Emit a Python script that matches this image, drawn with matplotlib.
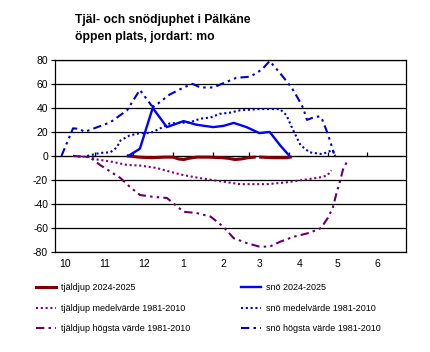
import numpy as np
import matplotlib
matplotlib.use("Agg")
import matplotlib.pyplot as plt

plt.rcParams['font.family'] = ['Liberation Sans', 'DejaVu Sans']
plt.rcParams['axes.unicode_minus'] = False

# x = days since 1 Oct
month_labels = ['10', '11', '12', '1', '2', '3', '4', '5', '6']
month_len = [31, 30, 31, 31, 28, 31, 30, 31, 30]

# snow 2024-2025
snow_d = [57, 66, 76, 87, 100, 110, 123, 131, 139, 149, 159, 167, 175, 182]
snow_v = [0, 6, 40, 24, 29, 26, 24, 25, 27.5, 24, 19, 20, 9, 0.5]

# frost 2024-2025
frost_d = [57, 65, 75, 85, 92, 96, 100, 104, 110, 120, 130, 135, 140, 145, 150, 155, 157,
           160, 170, 180, 183]
frost_v = [0, -1, -1.5, -1, -1, -2.5, -3, -2, -1, -1, -1.5, -2, -3, -2.5, -1.5, -1, np.nan,
           -1, -1.5, -1.5, -1]

# snow mean 1981-2010
snow_mean_d = [25, 35, 43, 48, 51, 58, 66, 74, 82, 89, 105, 113, 121, 128, 136, 144, 159,
               175, 180, 185, 191, 198, 208, 216, 218]
snow_mean_v = [0, 2.5, 3, 7, 13, 17, 19, 19, 23, 27, 28, 31, 32, 35, 36, 38, 39,
               39, 34, 22, 9, 3, 1.5, 5, 0]

# snow max 1981-2010
snow_max_d = [5, 14, 19, 23, 43, 56, 66, 75, 77, 89, 100, 107, 113, 123, 132, 141, 152,
              161, 167, 175, 184, 189, 193, 196, 201, 206, 208, 212, 215, 217]
snow_max_v = [0, 23, 22.5, 20, 28, 38, 55, 42, 41, 51, 57, 60, 57, 57, 61, 65, 66,
              72, 79, 69, 57, 48, 40, 30, 32, 33, 30, 19, 9, 2]

# frost mean 1981-2010
frost_mean_d = [14, 27, 33, 45, 56, 66, 79, 89, 100, 113, 128, 144, 165, 180, 196, 208,
                212, 215]
frost_mean_v = [0, -1, -3, -5, -7.5, -8, -10, -13, -16, -18.5, -21, -23.5, -23.5, -22,
                -19.5, -17.5, -16, -12]

# frost max 1981-2010
frost_max_d = [14, 27, 35, 43, 51, 58, 66, 76, 87, 95, 100, 110, 121, 131, 139, 149, 159,
               167, 175, 185, 198, 207, 212, 216, 219, 222, 224, 227]
frost_max_v = [0, -1, -7.5, -13, -18.5, -25.5, -32.5, -34, -35, -42, -46.5, -47.5, -50.5,
               -59, -68.5, -72.5, -75.5, -75.5, -71.5, -67.5, -64, -60, -52, -43.5, -31,
               -20, -11.5, -5]

month_start = np.concatenate([[0], np.cumsum(month_len)])

fig = plt.figure(figsize=(4.3, 3.52), dpi=100)
ax = fig.add_axes([0.128, 0.284, 0.816, 0.546])

dotted = (0, (1, 1.3))
dashdotdot = (0, (4, 2, 1.2, 2, 1.2, 2))
ax.plot(frost_d, frost_v, color='#800000', lw=2.2, label='tjäldjup 2024-2025')
ax.plot(frost_mean_d, frost_mean_v, color='#800080', lw=1.5, ls=dotted,
        label='tjäldjup medelvärde 1981-2010')
ax.plot(frost_max_d, frost_max_v, color='#660066', lw=1.5, ls=dashdotdot,
        label='tjäldjup högsta värde 1981-2010')
ax.plot(snow_d, snow_v, color='#0000FF', lw=1.7, label='snö 2024-2025')
ax.plot(snow_mean_d, snow_mean_v, color='#0000CC', lw=1.5, ls=dotted,
        label='snö medelvärde 1981-2010')
ax.plot(snow_max_d, snow_max_v, color='#0000CC', lw=1.5, ls=dashdotdot,
        label='snö högsta värde 1981-2010')

ax.set_xlim(0, month_start[-1])
ax.set_ylim(-80, 80)
ax.set_yticks(np.arange(-80, 81, 20))
ax.yaxis.grid(True, color='black', lw=0.9)
ax.set_axisbelow(True)
for s in ax.spines.values():
    s.set_color('black')
    s.set_linewidth(0.9)
ax.tick_params(axis='y', length=3, width=0.9, labelsize=7.5, pad=2)

# month labels a little after each month start
ax.set_xticks(month_start[:-1] + 8)
ax.set_xticklabels(month_labels)
ax.tick_params(axis='x', length=0, labelsize=7.5, pad=5)

# zero line with month ticks
sec = ax.secondary_xaxis(0.5)
sec.set_xticks(month_start[1:-1])
sec.set_xticklabels([])
sec.tick_params(length=3, width=0.9, direction='out')
sec.spines['bottom'].set_linewidth(1.0)

fig.text(0.175, 0.943, 'Tjäl- och snödjuphet i Pälkäne', fontsize=8.7,
         fontweight='bold', va='center')
fig.text(0.175, 0.895, 'öppen plats, jordart: mo', fontsize=8.7,
         fontweight='bold', va='center')

fig.legend(loc='upper left', bbox_to_anchor=(0.075, 0.205), ncol=2, frameon=False,
           fontsize=6.5, handlelength=2.2, handletextpad=0.6, columnspacing=5.6,
           labelspacing=1.25, borderaxespad=0)

fig.savefig('out.png', dpi=100)
